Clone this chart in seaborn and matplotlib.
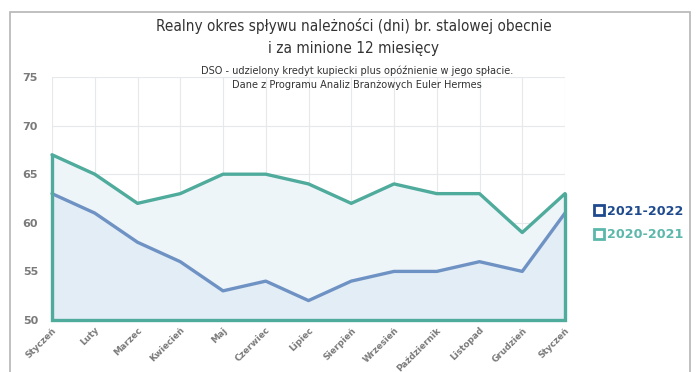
import matplotlib
matplotlib.use("Agg")
import matplotlib.pyplot as plt
import seaborn as sns
import pandas as pd
from matplotlib.patches import Rectangle
from matplotlib.lines import Line2D

months = ["Styczeń", "Luty", "Marzec", "Kwiecień", "Maj", "Czerwiec", "Lipiec",
          "Sierpień", "Wrzesień", "Październik", "Listopad", "Grudzień", "Styczeń"]
dso_2020_2021 = [67, 65, 62, 63, 65, 65, 64, 62, 64, 63, 63, 59, 63]
dso_2021_2022 = [63, 61, 58, 56, 53, 54, 52, 54, 55, 55, 56, 55, 61]
y_ticks = [50, 55, 60, 65, 70, 75]

title = "Realny okres spływu należności (dni) br. stalowej obecnie\ni za minione 12 miesięcy"
subtitle = ("DSO - udzielony kredyt kupiecki plus opóźnienie w jego spłacie.\n"
            "Dane z Programu Analiz Branżowych Euler Hermes")

TEAL = "#4fab9c"
BLUE = "#6f92c4"
NAVY = "#1f4b8e"
LEG_TEAL = "#5bb8aa"
GRAY = "#7a7a7a"

sns.set_theme(style="white")
plt.rcParams["font.family"] = ["DejaVu Sans"]

df = pd.DataFrame({
    "idx": list(range(len(months))) * 2,
    "dni": dso_2020_2021 + dso_2021_2022,
    "okres": ["2020-2021"] * len(months) + ["2021-2022"] * len(months),
})

fig = plt.figure(figsize=(6.97, 3.72), dpi=100)
ax = fig.add_axes([52 / 697, 1 - 320 / 372, (565 - 52) / 697, (320 - 77) / 372])

x = list(range(len(months)))
# filled areas under both series
ax.fill_between(x, 50, dso_2020_2021, color="#eef5f9", zorder=1, linewidth=0)
ax.fill_between(x, 50, dso_2021_2022, color="#e2edf5", zorder=1, linewidth=0)

sns.lineplot(data=df, x="idx", y="dni", hue="okres",
             palette={"2020-2021": TEAL, "2021-2022": BLUE},
             linewidth=2.4, legend=False, ax=ax, zorder=3)
for ln in ax.lines:
    ln.set_clip_on(False)

# outline of the 2020-2021 area (sides and base)
ax.plot([0, 0, len(months) - 1, len(months) - 1],
        [dso_2020_2021[0], 50, 50, dso_2020_2021[-1]],
        color=TEAL, linewidth=2.4, zorder=3, solid_joinstyle="miter", clip_on=False)

ax.set_xlim(0, len(months) - 1)
ax.set_ylim(50, 75)
ax.set_yticks(y_ticks)
ax.set_xticks(x)
ax.set_xticklabels(months, rotation=45, ha="right", rotation_mode="anchor",
                   fontsize=6.4, fontweight="bold", color=GRAY)
ax.set_yticklabels([str(v) for v in y_ticks], fontsize=8, fontweight="bold", color=GRAY)
ax.tick_params(axis="y", pad=10, length=0)
ax.tick_params(axis="x", pad=4, length=0)
ax.set_xlabel("")
ax.set_ylabel("")
for s in ax.spines.values():
    s.set_visible(False)
ax.grid(True, color="#e6e9ec", linewidth=0.8, zorder=0)
ax.set_axisbelow(True)

fig.text(354 / 697, 1 - 37 / 372, title, ha="center", va="center",
         fontsize=11, color="#333333", linespacing=1.5,
         family="DejaVu Sans", fontstretch="condensed")
fig.text(357 / 697, 1 - 78 / 372, subtitle, ha="center", va="center",
         fontsize=7.8, color="#333333", linespacing=1.45,
         family="DejaVu Sans", fontstretch="condensed")

handles = [Line2D([], [], marker="s", linestyle="none", markersize=6.5,
                  markerfacecolor="white", markeredgecolor=NAVY, markeredgewidth=2),
           Line2D([], [], marker="s", linestyle="none", markersize=6.5,
                  markerfacecolor="white", markeredgecolor=LEG_TEAL, markeredgewidth=2)]
leg = fig.legend(handles, ["2021-2022", "2020-2021"], loc="center left",
                 bbox_to_anchor=(584 / 697, 1 - 223 / 372), frameon=False,
                 handlelength=0.6, handletextpad=0.3, labelspacing=0.85,
                 prop={"size": 9.2, "weight": "bold"})
for t, c in zip(leg.get_texts(), [NAVY, LEG_TEAL]):
    t.set_color(c)

# outer frame
fig.patches.append(Rectangle((10 / 697, -0.01), (690 - 10) / 697, 1.01 - 12 / 372,
                             transform=fig.transFigure, fill=False,
                             edgecolor="#b5b5b5", linewidth=1.2))

fig.savefig("out.png", dpi=100)
